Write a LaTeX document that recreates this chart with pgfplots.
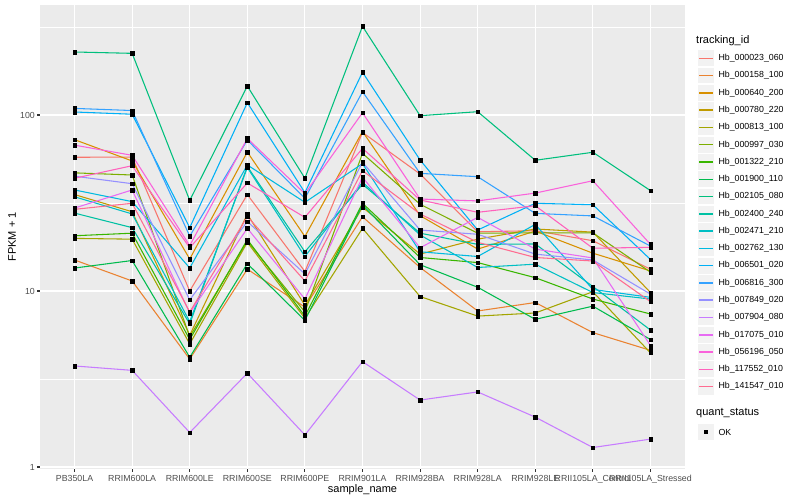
\documentclass[border=0pt]{standalone}
\usepackage{fontspec}
\setmainfont{Liberation Sans}
\usepackage{pgfplots}
\usepackage{pgfplotstable}
\pgfplotsset{compat=1.18}

% ggplot2 hue palette, 20 levels
\definecolor{c1}{HTML}{F8766D}
\definecolor{c2}{HTML}{EA8331}
\definecolor{c3}{HTML}{D89000}
\definecolor{c4}{HTML}{C09B00}
\definecolor{c5}{HTML}{A3A500}
\definecolor{c6}{HTML}{7CAE00}
\definecolor{c7}{HTML}{39B600}
\definecolor{c8}{HTML}{00BB4E}
\definecolor{c9}{HTML}{00BF7D}
\definecolor{c10}{HTML}{00C1A3}
\definecolor{c11}{HTML}{00BFC4}
\definecolor{c12}{HTML}{00BAE0}
\definecolor{c13}{HTML}{00B0F6}
\definecolor{c14}{HTML}{35A2FF}
\definecolor{c15}{HTML}{9590FF}
\definecolor{c16}{HTML}{C77CFF}
\definecolor{c17}{HTML}{E76BF3}
\definecolor{c18}{HTML}{FA62DB}
\definecolor{c19}{HTML}{FF62BC}
\definecolor{c20}{HTML}{FF6C91}
\definecolor{panel}{HTML}{EBEBEB}
\definecolor{keybg}{HTML}{F2F2F2}
\definecolor{tickcol}{HTML}{333333}
\definecolor{labcol}{HTML}{4D4D4D}

% FPKM + 1 per sample (rows) and tracking_id (columns)
\pgfplotstableread{
x  s1   s2   s3   s4   s5   s6   s7   s8   s9    s10  s11  s12  s13   s14   s15  s16  s17  s18  s19  s20
0  57.5 15.0 72.4 35.3 19.9 46.9 20.6 13.5 228   27.7 34.3 37.5 104   109   44.9 3.75 29.6 67.4 43.7 29.1
1  57.7 11.4 54.8 28.2 19.7 45.6 21.3 14.9 224   22.9 27.4 32.2 101   106   40.7 3.54 37.5 59   51.5 31.5
2  10.0 4.1  15.2 5.6  5.0  5.5  5.3  4.2  32.7  6.5  6.7  13.5 22.9  20.5  8.9  1.57 7.5  18.1 17.6 7.6
3  35.3 13.3 61.6 27.3 18.9 19.2 19.6 14.3 146   51   50.3 52   117.5 72.1  24.8 3.41 22.7 73.6 41.1 26.5
4  12.9 8.1  20.4 8.3  7.0  7.6  7.2  6.8  43.7  16.7 15.7 31.9 36.2  33.6  12.5 1.52 9.0  35.7 26.2 11.4
5  79.6 26.4 80.6 29.9 22.7 60.5 31.5 30.8 319   40.4 41.5 52.9 175   135.6 53.9 3.97 44.3 103  64.6 48.3
6  46.2 13.6 26.8 16.2 9.3  31.1 15.5 14.1 99.1  21.3 20.8 16.7 55.5  46.6  22.2 2.40 17.6 33.3 32.9 27.4
7  21.7 7.7  17.3 19.7 7.2  21.3 14.5 10.5 104.4 18.4 13.6 15.7 22.2  44.6  21.0 2.67 26.2 32.5 28   18.9
8  22.0 8.6  21.9 22.5 7.5  21.4 11.9 6.9  55.3  18.5 14.2 23.9 31.5  27.6  16.2 1.92 17.3 36   30.5 15.5
9  19.3 5.8  16.4 21.6 9.9  21.4 9.0  8.2  61.4  10.6 9.8  10.2 30.9  26.7  15.0 1.29 15.4 42.3 17.5 14.8
10 13.3 4.6  13.0 9.8  4.45 12.8 7.4  5.3  37.2  6.0  9.0  9.2  15.1  18.0  9.6  1.44 4.9  18.4 17.7 8.7
}\fpkm

\begin{document}
\begin{tikzpicture}[x=1pt,y=1pt]
\path[use as bounding box] (0,0) rectangle (800,500);
\begin{axis}[
  at={(40pt,31pt)}, anchor=south west,
  scale only axis, width=645pt, height=464pt,
  ymode=log,
  xmin=-0.6, xmax=10.6,
  ymin=0.974, ymax=421.7,
  axis background/.style={fill=panel},
  axis line style={draw=none},
  xtick={0,...,10},
  xticklabels={PB350LA,RRIM600LA,RRIM600LE,RRIM600SE,RRIM600PE,RRIM901LA,RRIM928BA,RRIM928LA,RRIM928LE,RRII105LA\_Control,RRII105LA\_Stressed},
  ytick={1,10,100},
  yticklabels={1,10,100},
  minor ytick={3.1623,31.623,316.23},
  xtick pos=bottom, ytick pos=left,
  tick align=outside,
  major tick length=2.75pt,
  minor tick length=0pt,
  tick style={tickcol, line width=1.07pt},
  xmajorgrids, ymajorgrids, yminorgrids,
  major grid style={white, line width=1.07pt},
  minor grid style={white, line width=0.53pt},
  ticklabel style={font=\fontsize{8.8}{10}\selectfont, text=labcol},
  xticklabel style={inner sep=0pt, yshift=-3.5pt},
  yticklabel style={inner sep=0pt, xshift=-2.2pt},
  /pgf/number format/assume math mode=true,
]
\pgfplotsinvokeforeach{1,...,20}{
  \addplot[c#1, line width=1.07pt, no markers] table[x=x, y=s#1] {\fpkm};
}
\pgfplotsinvokeforeach{1,...,20}{
  \addplot[only marks, mark=square*, mark size=1.75pt, black] table[x=x, y=s#1] {\fpkm};
}
\end{axis}
% axis titles
\node[font=\fontsize{11}{13}\selectfont] at (362.5,10) {sample\_name};
\node[rotate=90, font=\fontsize{11}{13}\selectfont] at (12,263) {FPKM + 1};
% legend: tracking_id
\node[anchor=west, inner sep=0pt, font=\fontsize{11}{13}\selectfont] at (696,459.3) {tracking\_id};
\foreach \i/\name in {1/Hb\_000023\_060,2/Hb\_000158\_100,3/Hb\_000640\_200,4/Hb\_000780\_220,
    5/Hb\_000813\_100,6/Hb\_000997\_030,7/Hb\_001322\_210,8/Hb\_001900\_110,9/Hb\_002105\_080,
    10/Hb\_002400\_240,11/Hb\_002471\_210,12/Hb\_002762\_130,13/Hb\_006501\_020,14/Hb\_006816\_300,
    15/Hb\_007849\_020,16/Hb\_007904\_080,17/Hb\_017075\_010,18/Hb\_056196\_050,19/Hb\_117552\_010,
    20/Hb\_141547\_010}{
  \pgfmathsetmacro{\yc}{441.7-17.28*(\i-1)}
  \fill[keybg] (697.8,\yc-7.9) rectangle (714.1,\yc+7.9);
  \draw[c\i, line width=1.5pt] (699,\yc) -- (712.9,\yc);
  \node[anchor=west, inner sep=0pt, font=\fontsize{8.8}{10}\selectfont] at (718.3,\yc) {\name};
}
% legend: quant_status
\node[anchor=west, inner sep=0pt, font=\fontsize{11}{13}\selectfont] at (696,87) {quant\_status};
\fill[keybg] (697.8,59.85) rectangle (714.1,75.65);
\fill[black] (704.2,66) rectangle (707.7,69.5);
\node[anchor=west, inner sep=0pt, font=\fontsize{8.8}{10}\selectfont] at (718.3,67.75) {OK};
\end{tikzpicture}
\end{document}
